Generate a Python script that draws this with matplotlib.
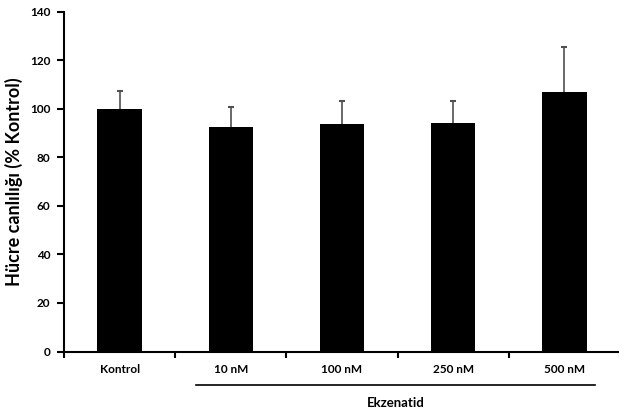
import numpy as np
import matplotlib.pyplot as plt
from matplotlib.transforms import blended_transform_factory

groups = ['Kontrol', '10 nM', '100 nM', '250 nM', '500 nM']
viability = [100.0, 92.3, 93.5, 94.2, 106.7]
sd = [7.2, 8.2, 9.6, 8.9, 18.5]
yticks = [0, 20, 40, 60, 80, 100, 120, 140]

plt.rcParams['font.family'] = ['Lato', 'DejaVu Sans']
plt.rcParams['font.weight'] = 'bold'

fig = plt.figure(figsize=(6.19, 4.15), dpi=100)
ax = fig.add_axes([64/619, 1 - 351.5/415, 556/619, 340/415])

x = np.arange(len(groups))
ax.bar(x, viability, width=0.4, color='black', zorder=5)
eb = ax.errorbar(x, viability, yerr=[np.zeros(len(sd)), sd], fmt='none',
                 ecolor='#505050', elinewidth=1.2, capsize=2, capthick=1.5, zorder=1)
# sadece üst kapak
eb[1][0].set_visible(False)

ax.set_xlim(-0.5, len(groups) - 0.5)
ax.set_ylim(0, 140)
ax.set_yticks(yticks)
ax.set_xticks(x)
ax.set_xticklabels(groups, fontsize=8.5, fontweight='bold')
ax.set_xticks(np.arange(len(groups) + 1) - 0.5, minor=True)
ax.tick_params(axis='x', which='major', length=0, pad=9)
ax.tick_params(axis='x', which='minor', length=4, width=1.5, direction='out')
ax.tick_params(axis='y', length=5, width=1.5, direction='out', labelsize=8.5, pad=5)
for lab in ax.get_yticklabels():
    lab.set_fontweight('bold')

for s in ['top', 'right']:
    ax.spines[s].set_visible(False)
for s in ['left', 'bottom']:
    ax.spines[s].set_linewidth(1.5)

ax.set_ylabel('Hücre canlılığı (% Kontrol)', fontsize=13, fontweight='bold', labelpad=5)

# grup çizgisi
tr = blended_transform_factory(ax.transData, ax.transAxes)
ax.plot([0.685, 4.275], [-0.0985, -0.0985], color='black', lw=1.2,
        transform=tr, clip_on=False)
ax.text(2.48, -0.152, 'Ekzenatid', transform=tr, ha='center', va='center',
        fontsize=9.5, fontweight='bold')

fig.savefig('out.png', dpi=100)
